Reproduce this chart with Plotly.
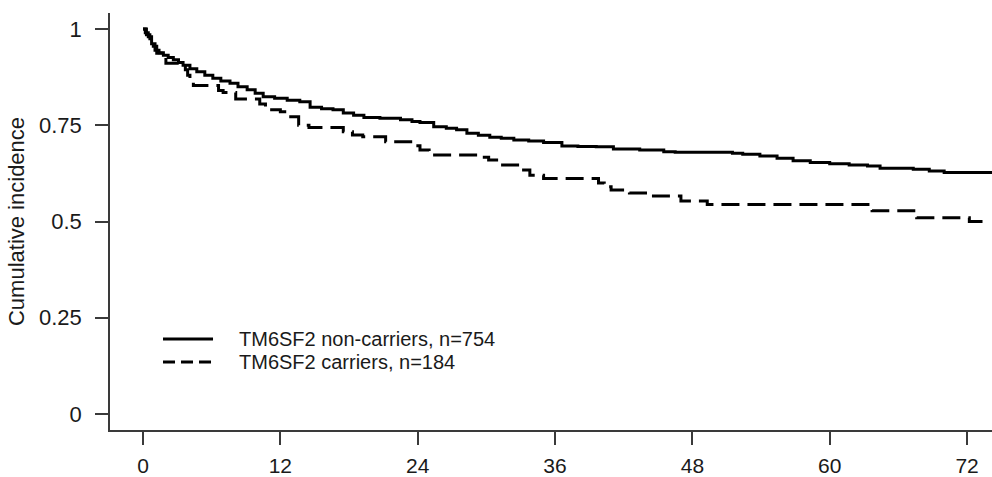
import plotly.graph_objects as go

# Non-carriers (solid) step curve
t_non = [0, 0.2, 0.46, 0.75, 1.05, 1.4, 1.78, 2.2, 2.65, 3.1, 3.5, 4.1, 4.7, 5.4, 6.1, 6.8,
         7.6, 8.3, 9.1, 9.8, 10.5, 11.5, 12.6, 13.7, 14.6, 15.6, 16.6, 17.5, 18.4, 19.3,
         20.7, 22.5, 23.5, 24.2, 25.4, 26.5, 27.4, 28.3, 29.3, 30.3, 31.3, 32.4, 33.7,
         35.0, 36.6, 38.0, 39.6, 41.1, 43.4, 45.5, 46.5, 51.5, 52.4, 53.9, 55.4, 56.8,
         58.3, 60.0, 61.7, 63.3, 64.4, 67.3, 68.7, 70.0, 74.2]
v_non = [1.0, 0.99, 0.98, 0.962, 0.945, 0.938, 0.932, 0.926, 0.92, 0.913, 0.906, 0.897,
         0.889, 0.88, 0.872, 0.865, 0.859, 0.85, 0.842, 0.833, 0.824, 0.82, 0.815, 0.811,
         0.797, 0.793, 0.79, 0.782, 0.776, 0.77, 0.768, 0.764, 0.76, 0.757, 0.746, 0.742,
         0.738, 0.729, 0.724, 0.719, 0.716, 0.712, 0.709, 0.705, 0.696, 0.695, 0.694,
         0.688, 0.686, 0.681, 0.680, 0.677, 0.675, 0.67, 0.664, 0.658, 0.653, 0.65,
         0.647, 0.644, 0.638, 0.636, 0.631, 0.627, 0.627]

# Carriers (dashed) step curve
t_car = [0, 0.3, 0.6, 0.9, 1.2, 1.6, 2.0, 3.7, 3.9, 4.1, 4.4, 6.6, 7.0, 8.1, 10.2, 10.7,
         11.1, 12.0, 12.6, 13.6, 14.5, 17.5, 18.3, 19.2, 21.2, 23.6, 24.2, 25.0, 29.4,
         30.2, 31.2, 33.1, 33.8, 35.0, 39.8, 40.3, 40.9, 42.5, 44.6, 47.0, 49.3, 63.7,
         67.6, 72.2, 73.4]
v_car = [1.0, 0.985, 0.97, 0.955, 0.937, 0.925, 0.911, 0.894, 0.88, 0.868, 0.853, 0.84,
         0.835, 0.818, 0.805, 0.797, 0.79, 0.785, 0.772, 0.75, 0.744, 0.733, 0.725, 0.72,
         0.707, 0.697, 0.686, 0.673, 0.667, 0.66, 0.647, 0.634, 0.62, 0.612, 0.6, 0.59,
         0.582, 0.574, 0.566, 0.553, 0.544, 0.528, 0.51, 0.5, 0.5]

x_ticks = [0, 12, 24, 36, 48, 60, 72]
y_ticks = [0, 0.25, 0.5, 0.75, 1]
y_tick_text = ["0", "0.25", "0.5", "0.75", "1"]
legend_labels = ["TM6SF2 non-carriers, n=754", "TM6SF2 carriers, n=184"]

FONT = "Liberation Sans, Arial, Helvetica, sans-serif"
INK = "#1a1a1a"
AX = "#3a3a3a"

fig = go.Figure()
fig.add_trace(go.Scatter(x=t_non, y=v_non, mode="lines", line_shape="hv",
                         line=dict(color="black", width=3), showlegend=False,
                         name=legend_labels[0]))
fig.add_trace(go.Scatter(x=t_car, y=v_car, mode="lines", line_shape="hv",
                         line=dict(color="black", width=3, dash="18px,8px"),
                         showlegend=False, name=legend_labels[1]))

# Legend drawn as line samples plus text
leg_x0, leg_x1, leg_tx = 0.0601, 0.1168, 0.144
leg_y = [0.2182, 0.1631]
fig.add_shape(type="line", xref="paper", yref="paper", x0=leg_x0, x1=leg_x1,
              y0=leg_y[0], y1=leg_y[0], line=dict(color="black", width=3))
fig.add_shape(type="line", xref="paper", yref="paper", x0=leg_x0, x1=leg_x1,
              y0=leg_y[1], y1=leg_y[1], line=dict(color="black", width=3, dash="12px,6px"))
for lab, yy in zip(legend_labels, leg_y):
    fig.add_annotation(xref="paper", yref="paper", x=leg_tx, y=yy, text=lab,
                       showarrow=False, xanchor="left", yanchor="middle",
                       font=dict(family=FONT, size=20, color=INK))

fig.update_layout(
    width=992, height=477,
    margin=dict(l=110, r=0, t=13, b=47),
    paper_bgcolor="white", plot_bgcolor="white",
    font=dict(family=FONT, color=INK),
    xaxis=dict(range=[-2.884, 74.18], tickvals=x_ticks, ticktext=[str(v) for v in x_ticks],
               automargin=False,
               showgrid=False, zeroline=False, showline=True, linecolor=AX, linewidth=1.5,
               ticks="outside", ticklen=13, tickwidth=1.5, tickcolor=AX,
               tickfont=dict(family=FONT, size=21, color=INK), ticklabelstandoff=3),
    yaxis=dict(range=[-0.04156, 1.04156], tickvals=y_ticks, ticktext=y_tick_text,
               automargin=False,
               showgrid=False, zeroline=False, showline=True, linecolor=AX, linewidth=1.5,
               ticks="outside", ticklen=13, tickwidth=1.5, tickcolor=AX,
               tickfont=dict(family=FONT, size=22, color=INK), ticklabelstandoff=9,
               title=dict(text="Cumulative incidence", standoff=8,
                          font=dict(family=FONT, size=22, color=INK))),
)

fig.write_html("out.html", config={"displayModeBar": False},
               post_script="document.body.style.margin='0';document.body.style.overflow='hidden';")
